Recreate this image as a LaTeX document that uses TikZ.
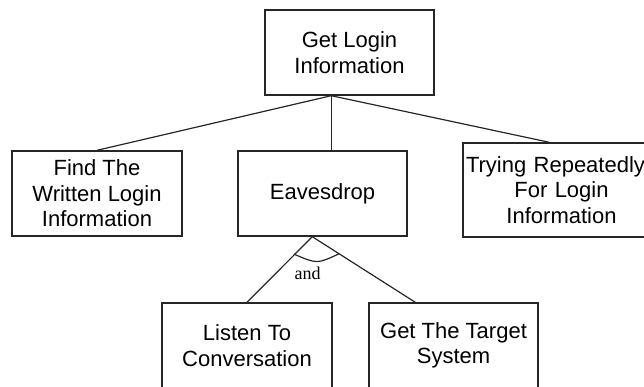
\documentclass[tikz,border=0pt]{standalone}
\usepackage{fontspec}
\usetikzlibrary{calc}
\setmainfont{Liberation Sans}
\newfontfamily\andfont{Liberation Serif}
\begin{document}
\begin{tikzpicture}[x=1pt,y=-1pt,
  goal/.style={draw=black!85, line width=1.4pt, fill=white, inner sep=0pt,
    align=center, font=\fontsize{22}{25.5}\selectfont},
  link/.style={draw=black!85, line width=1.2pt}]
  \useasboundingbox (0,0) rectangle (644,386);
  \clip (0,0) rectangle (644,386);

  % attack goal nodes
  \node[goal, minimum width=169pt, minimum height=85pt] (root) at (349.5,52.5)
    {Get Login\\Information};
  \node[goal, minimum width=170pt, minimum height=85pt] (find) at (97,193.5)
    {Find The\\Written Login\\Information};
  \node[goal, minimum width=169pt, minimum height=85pt] (eav) at (322.5,193.5)
    {Eavesdrop};
  \node[goal, minimum width=197pt, minimum height=94pt, text width=197pt] (try) at (561.5,190)
    {\hspace*{-12pt}Trying Repeatedly\\For Login\\Information};
  \node[goal, minimum width=170pt, minimum height=85pt] (listen) at (247,345.5)
    {Listen To\\Conversation};
  \node[goal, minimum width=169pt, minimum height=85pt] (target) at (453.5,345.5)
    {Get The Target\\System};

  % connection points on the box edges
  \coordinate (rootpt) at ([xshift=67pt]root.south west);
  \coordinate (eavtop) at ([xshift=94pt]eav.north west);
  \coordinate (trytop) at ([xshift=87pt]try.north west);
  \coordinate (andpt) at ([xshift=75pt]eav.south west);
  \coordinate (targettop) at ([xshift=47pt]target.north west);

  % OR branches
  \draw[link] (rootpt) -- (find.north);
  \draw[link] (rootpt) -- (eavtop);
  \draw[link] (rootpt) -- (trytop);

  % AND branches
  \draw[link] (andpt) -- (listen.north);
  \draw[link] (andpt) -- (targettop);
  \coordinate (arcL) at ($(andpt)!0.27!(listen.north)$);
  \coordinate (arcR) at ($(andpt)!0.26!(targettop)$);
  \draw[link] (arcL) .. controls (317,264) .. (arcR);
  \node[font=\andfont\fontsize{18}{20}\selectfont, inner sep=0pt] (andlabel) at (307.5,273) {and};
\end{tikzpicture}
\end{document}
